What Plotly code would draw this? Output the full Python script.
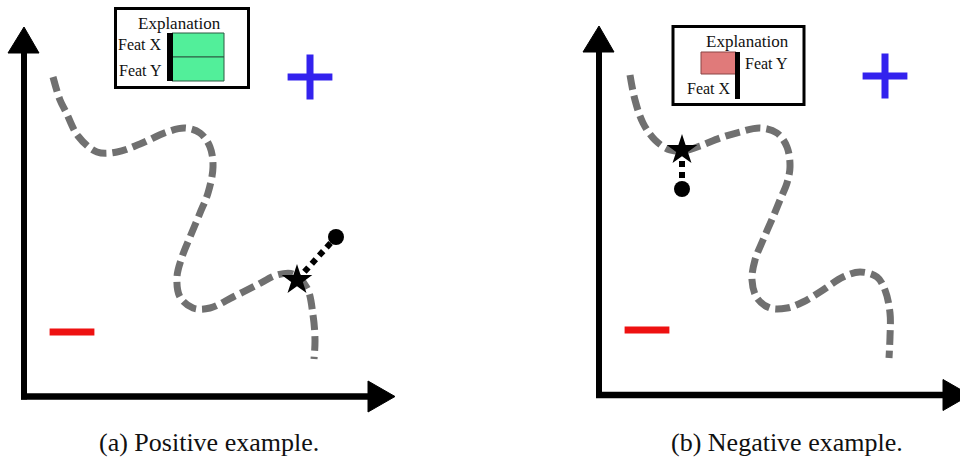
import plotly.graph_objects as go

W, H = 960, 459

# ---- data (pixel-space diagram coordinates) ----
curve_a_x = [53, 60, 66, 78, 97, 117, 140, 167, 185, 200, 210, 213, 208, 200, 190, 182, 177, 180, 193, 210, 233, 257, 277, 293, 307, 313, 315, 314]
curve_a_y = [77, 100, 112, 136, 152, 152, 144, 132, 128, 133, 147, 167, 193, 213, 237, 257, 277, 297, 308, 308, 297, 285, 275, 274, 288, 315, 340, 359]

curve_b_x = [630, 635, 643, 655, 670, 683, 700, 720, 740, 760, 777, 787, 790, 787, 780, 773, 763, 755, 752, 757, 770, 787, 803, 823, 843, 860, 877, 885, 890, 890, 889]
curve_b_y = [75, 100, 123, 140, 150, 151, 146, 138, 132, 128, 133, 147, 167, 183, 200, 217, 240, 260, 280, 298, 308, 308, 302, 290, 277, 272, 277, 290, 313, 337, 358]

star_a, point_a = (297, 280), (336, 237)
star_b, point_b = (682, 150), (682, 189)

plus_pos = [(310, 77), (885, 76)]
minus_pos = [(72, 332), (647, 330)]

# axes: origin and arrow tips
axes_a = dict(ox=24, oy=396.5, xend=395, ytop=27)
axes_b = dict(ox=599, oy=395, xend=970, ytop=26)

captions = ["(a) Positive example.", "(b) Negative example."]
caption_x = [209, 787]

feat_labels = ["Feat X", "Feat Y"]

fig = go.Figure()

GRAY = "#707070"
for cx, cy in [(curve_a_x, curve_a_y), (curve_b_x, curve_b_y)]:
    fig.add_trace(go.Scatter(x=cx, y=cy, mode="lines",
                             line=dict(color=GRAY, width=7, dash="15px,6px", shape="spline", smoothing=1.0),
                             hoverinfo="skip", showlegend=False))

for s, p in [(star_a, point_a), (star_b, point_b)]:
    fig.add_trace(go.Scatter(x=[s[0], p[0]], y=[s[1], p[1]], mode="lines",
                             line=dict(color="black", width=6, dash="6px,5px"),
                             hoverinfo="skip", showlegend=False))
    fig.add_trace(go.Scatter(x=[p[0]], y=[p[1]], mode="markers",
                             marker=dict(symbol="circle", size=16, color="black"),
                             hoverinfo="skip", showlegend=False))
    fig.add_trace(go.Scatter(x=[s[0]], y=[s[1]], mode="markers",
                             marker=dict(symbol="star", size=23, color="black"),
                             hoverinfo="skip", showlegend=False))

fig.add_trace(go.Scatter(x=[p[0] for p in plus_pos], y=[p[1] for p in plus_pos], mode="markers",
                         marker=dict(symbol="cross-thin", size=32, line=dict(color="#3322ee", width=7)),
                         hoverinfo="skip", showlegend=False))
fig.add_trace(go.Scatter(x=[p[0] for p in minus_pos], y=[p[1] for p in minus_pos], mode="markers",
                         marker=dict(symbol="line-ew", size=32, line=dict(color="#ee1111", width=7)),
                         hoverinfo="skip", showlegend=False))

shapes = []
annots = []

def add_axes(a):
    ox, oy, xe, yt = a["ox"], a["oy"], a["xend"], a["ytop"]
    shapes.append(dict(type="line", x0=ox, y0=oy + 3, x1=ox, y1=yt + 26, line=dict(color="black", width=6)))
    shapes.append(dict(type="line", x0=ox - 3, y0=oy, x1=xe - 26, y1=oy, line=dict(color="black", width=6.5)))
    shapes.append(dict(type="path", path=f"M {ox-16},{yt+26} L {ox},{yt} L {ox+15},{yt+26} Z",
                       fillcolor="black", line=dict(color="black", width=1)))
    shapes.append(dict(type="path", path=f"M {xe-27},{oy-15.5} L {xe},{oy} L {xe-27},{oy+15.5} Z",
                       fillcolor="black", line=dict(color="black", width=1)))

add_axes(axes_a)
add_axes(axes_b)

FONT = "Liberation Serif"
SF = 17
LF = 16

# explanation box (a)
shapes.append(dict(type="rect", x0=115.5, y0=8.5, x1=248.5, y1=87.5, line=dict(color="black", width=3), fillcolor="white", layer="below"))
annots.append(dict(x=179, y=23, text="Explanation", showarrow=False, font=dict(family=FONT, size=SF, color="#111")))
shapes.append(dict(type="rect", x0=172, y0=33, x1=224, y1=57, fillcolor="#52ef9a", line=dict(color="#2d5a42", width=1)))
shapes.append(dict(type="rect", x0=172, y0=57, x1=224, y1=81, fillcolor="#52ef9a", line=dict(color="#2d5a42", width=1)))
shapes.append(dict(type="rect", x0=167, y0=33, x1=173, y1=81, fillcolor="black", line=dict(width=0)))
annots.append(dict(x=164, y=44, text=feat_labels[0], xanchor="right", showarrow=False, font=dict(family=FONT, size=LF, color="#111")))
annots.append(dict(x=164, y=70, text=feat_labels[1], xanchor="right", showarrow=False, font=dict(family=FONT, size=LF, color="#111")))

# explanation box (b)
shapes.append(dict(type="rect", x0=673, y0=26.5, x1=804, y1=104.5, line=dict(color="black", width=3), fillcolor="white", layer="below"))
annots.append(dict(x=747, y=41, text="Explanation", showarrow=False, font=dict(family=FONT, size=SF, color="#111")))
shapes.append(dict(type="rect", x0=701, y0=52, x1=736, y1=74, fillcolor="#e07a7a", line=dict(color="#8a4444", width=1)))
shapes.append(dict(type="rect", x0=735, y0=52, x1=740, y1=99, fillcolor="black", line=dict(width=0)))
annots.append(dict(x=743, y=63, text=feat_labels[1], xanchor="left", showarrow=False, font=dict(family=FONT, size=LF, color="#111")))
annots.append(dict(x=733, y=88, text=feat_labels[0], xanchor="right", showarrow=False, font=dict(family=FONT, size=LF, color="#111")))

for t, x in zip(captions, caption_x):
    annots.append(dict(x=x, y=459, yanchor="bottom", yshift=-1, text=t, showarrow=False,
                       font=dict(family=FONT, size=26, color="#111")))
# use paper-independent anchoring: bottom of text box at the figure edge
for a in annots[-2:]:
    a["yanchor"] = "bottom"
    a["y"] = 459
    a["yshift"] = 0

fig.update_layout(
    width=W, height=H, margin=dict(l=0, r=0, t=0, b=0),
    paper_bgcolor="white", plot_bgcolor="white",
    xaxis=dict(range=[0, W], visible=False, fixedrange=True),
    yaxis=dict(range=[H, 0], visible=False, fixedrange=True),
    shapes=shapes, annotations=annots, showlegend=False,
)

fig.write_html("out.html", config={"displayModeBar": False},
               post_script="document.body.style.margin='0';document.body.style.overflow='hidden';")
